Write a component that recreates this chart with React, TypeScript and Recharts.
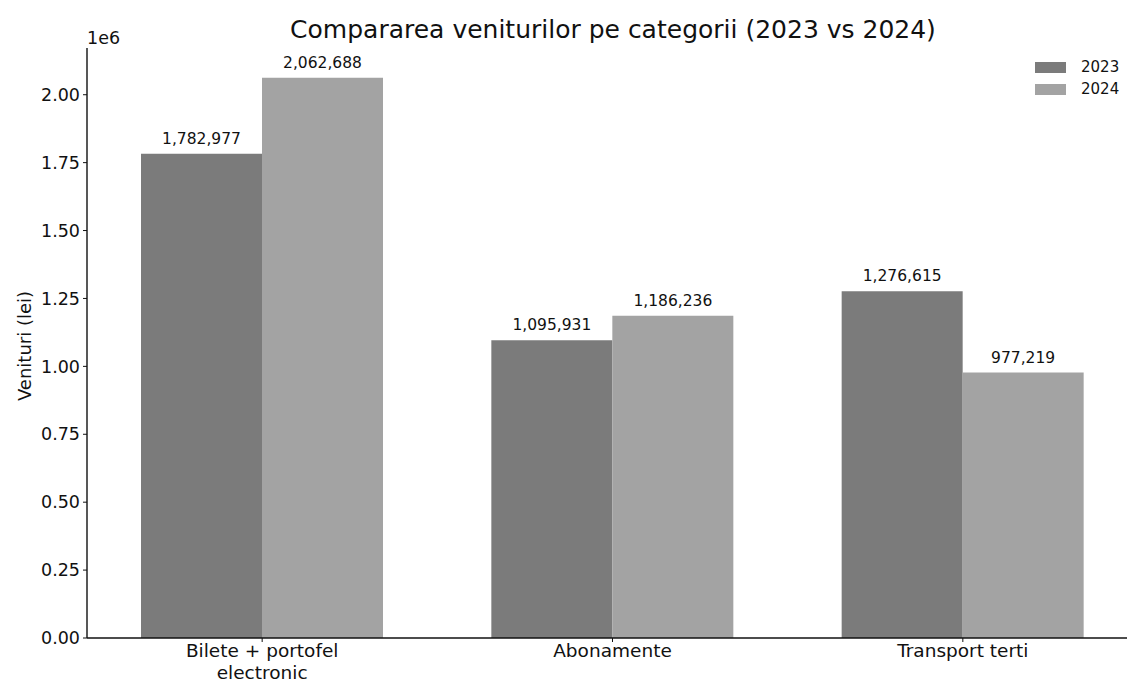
import { Bar, BarChart, LabelList, XAxis, YAxis } from 'recharts';

const categories = ['Bilete + portofel\nelectronic', 'Abonamente', 'Transport terti'];
const values2023 = [1782977, 1095931, 1276615];
const values2024 = [2062688, 1186236, 977219];
const yTicks = [0, 250000, 500000, 750000, 1000000, 1250000, 1500000, 1750000, 2000000];

const FONT = '"DejaVu Sans", Verdana, sans-serif';
const C2023 = '#7b7b7b';
const C2024 = '#a3a3a3';

const chartData = categories.map((name, i) => ({
  name,
  y2023: values2023[i],
  y2024: values2024[i],
}));

function CategoryTick({ x, y, payload }: any) {
  const lines = String(payload.value).split('\n');
  return (
    <text x={x} y={y} textAnchor="middle" fontSize={18.5} fill="#111" fontFamily={FONT}>
      {lines.map((line, i) => (
        <tspan key={i} x={x} dy={i === 0 ? 13 : 22}>
          {line}
        </tspan>
      ))}
    </text>
  );
}

const fmtValue = (v: any) => Number(v).toLocaleString('en-US');

export default function App() {
  return (
    <div
      style={{
        position: 'absolute',
        top: 0,
        left: 0,
        width: 1127,
        height: 686,
        overflow: 'hidden',
        background: '#fff',
        fontFamily: FONT,
      }}
    >
      <div
        style={{
          position: 'absolute',
          top: 17,
          left: 163,
          width: 900,
          textAlign: 'center',
          fontSize: 25,
          lineHeight: 1,
          color: '#111',
          whiteSpace: 'nowrap',
        }}
      >
        Compararea veniturilor pe categorii (2023 vs 2024)
      </div>
      <div style={{ position: 'absolute', top: 30, left: 87, fontSize: 17.5, lineHeight: 1, color: '#111' }}>
        1e6
      </div>
      <div
        style={{
          position: 'absolute',
          left: 25,
          top: 346,
          transform: 'translate(-50%, -50%) rotate(-90deg)',
          fontSize: 18,
          lineHeight: 1,
          color: '#111',
          whiteSpace: 'nowrap',
        }}
      >
        Venituri (lei)
      </div>
      {[
        { label: '2023', color: C2023, top: 58 },
        { label: '2024', color: C2024, top: 80 },
      ].map((item) => (
        <div
          key={item.label}
          style={{
            position: 'absolute',
            left: 1035,
            top: item.top,
            height: 18,
            display: 'flex',
            alignItems: 'center',
          }}
        >
          <div style={{ width: 31, height: 11, background: item.color }} />
          <span style={{ marginLeft: 15, fontSize: 15, lineHeight: 1, color: '#111' }}>{item.label}</span>
        </div>
      ))}
      <BarChart
        width={1160}
        height={686}
        data={chartData}
        margin={{ top: 48, right: 22, bottom: 0, left: 0 }}
        barGap={0}
        style={{ position: 'absolute', top: 0, left: 0 }}
      >
        <XAxis
          dataKey="name"
          height={48}
          interval={0}
          tick={<CategoryTick />}
          tickSize={4}
          axisLine={{ stroke: '#111', strokeWidth: 1.4 }}
          tickLine={{ stroke: '#111' }}
        />
        <YAxis
          width={87}
          domain={[0, 2172000]}
          ticks={yTicks}
          tickFormatter={(v: number) => (v / 1e6).toFixed(2)}
          tick={{ fontSize: 17.5, fill: '#111', fontFamily: FONT }}
          tickSize={4}
          tickMargin={3}
          axisLine={{ stroke: '#111', strokeWidth: 1.4 }}
          tickLine={{ stroke: '#111' }}
          allowDataOverflow
        />
        <Bar dataKey="y2023" fill={C2023} barSize={121} isAnimationActive={false}>
          <LabelList
            dataKey="y2023"
            position="top"
            offset={10}
            formatter={fmtValue}
            style={{ fontSize: 15.5, fill: '#111', fontFamily: FONT }}
          />
        </Bar>
        <Bar dataKey="y2024" fill={C2024} barSize={121} isAnimationActive={false}>
          <LabelList
            dataKey="y2024"
            position="top"
            offset={10}
            formatter={fmtValue}
            style={{ fontSize: 15.5, fill: '#111', fontFamily: FONT }}
          />
        </Bar>
      </BarChart>
    </div>
  );
}
